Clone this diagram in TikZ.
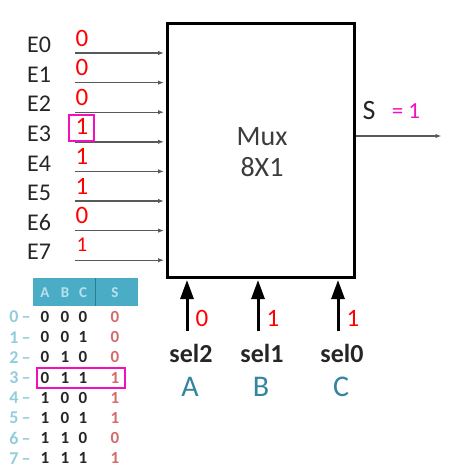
\documentclass[tikz,border=0pt]{standalone}
\usepackage{fontspec}
\setmainfont{Carlito}
\usetikzlibrary{arrows.meta,positioning,calc}
\definecolor{inkC}    {HTML}{262626}
\definecolor{wireC}   {HTML}{595959}
\definecolor{valRed}  {HTML}{FF0000}
\definecolor{hiPink}  {HTML}{F20FC0}
\definecolor{tealC}   {HTML}{31859C}
\definecolor{headFill}{HTML}{4BACC6}
\definecolor{headLine}{HTML}{2C7C90}
\definecolor{headText}{HTML}{B7E1EC}
\definecolor{idxC}    {HTML}{92CDDC}
\definecolor{tabRed}  {HTML}{D46A6A}
\tikzset{
  >=Latex,
  muxBox/.style={draw=black,line width=3pt,fill=white,inner sep=0pt,
                 minimum width=187pt,minimum height=254pt},
  muxText/.style={font=\fontsize{28}{33}\selectfont,text=inkC!90,align=center},
  inLabel/.style={font=\fontsize{24}{26}\selectfont,text=inkC,inner sep=0pt},
  valTxt/.style={font=\fontsize{25}{28}\selectfont,text=valRed,inner sep=0pt},
  hiBox/.style={draw=hiPink,line width=2.4pt,fill=none,inner sep=0pt},
  inWire/.style={-{Latex[length=6pt,width=4.5pt]},line width=1.4pt,wireC,shorten >=1.5pt},
  selArrow/.style={-{Triangle[length=19pt,width=13pt]},line width=3pt,black,shorten >=1.5pt},
  selLabel/.style={font=\fontsize{26}{29}\selectfont\bfseries,text=inkC,inner sep=0pt},
  letterC/.style={font=\fontsize{30}{32}\selectfont,text=tealC,inner sep=0pt},
  headCell/.style={font=\fontsize{15}{17}\selectfont\bfseries,text=headText,inner sep=0pt},
  idxTxt/.style={font=\fontsize{18}{20}\selectfont\bfseries,text=idxC,inner sep=0pt},
  bitTxt/.style={font=\fontsize{17}{19}\selectfont\bfseries,text=inkC,inner sep=0pt},
  outTxt/.style={font=\fontsize{17}{19}\selectfont\bfseries,text=tabRed,inner sep=0pt},
}
\begin{document}
\begin{tikzpicture}[x=1pt,y=-1pt]
\useasboundingbox (0,0) rectangle (455,469);

% the multiplexer block
\node[muxBox] (mux) at (260.5,150) {};
\node[muxText] (muxname) at (262,152) {Mux\\[-2pt]8X1};

% data inputs E0..E7 with their current values
\foreach \v/\sz [count=\i from 0] in {0/25,0/25,0/25,1/25,1/25,1/25,0/25,1/21} {
  \node[inLabel] (e\i) at (39,{45+29.6*\i}) {E\i};
  \node[valTxt,font=\fontsize{\sz}{\sz}\selectfont] (v\i) at (82,{38+29.6*\i}) {\v};
  \coordinate (w\i) at (75,{53+29.6*\i});
  \draw[inWire] (w\i) -- (w\i -| mux.west);
}
\node[hiBox,minimum width=25pt,minimum height=26pt] (e3box) at (81.5,128) {};

% output S
\coordinate (sOut) at (443,136);
\draw[inWire] (mux.east |- sOut) -- (sOut);
\node[font=\fontsize{28}{30}\selectfont,text=inkC,inner sep=0pt] (sname) at (369,111) {S};
\node[font=\fontsize{23}{26}\selectfont,text=hiPink,inner sep=0pt] (sval) at (406,111) {= 1};

% select lines
\foreach \x/\s/\v/\l [count=\k] in {187/2/0/A,258/1/1/B,338/0/1/C} {
  \coordinate (a\k) at (\x,331);
  \draw[selArrow] (a\k) -- (a\k |- mux.south);
  \node[valTxt] (sv\k) at ({\x+15},318) {\v};
  \node[selLabel] (sel\k) at ({\x+4},353) {sel\s};
  \node[letterC] (abc\k) at ({\x+3},387) {\l};
}

% truth table
\node[fill=headFill,minimum width=105pt,minimum height=28pt,inner sep=0pt] (thead) at (85.5,292) {};
\draw[headLine,line width=0.8pt] (95,278) -- (95,306);
\node[headCell] (hA) at (45,293) {A};
\node[headCell] (hB) at (65,293) {B};
\node[headCell] (hC) at (83,293) {C};
\node[headCell] (hS) at (115,293) {S};
\foreach \a/\b/\c/\s [count=\r from 0] in {0/0/0/0,0/0/1/0,0/1/0/0,0/1/1/1,1/0/0/1,1/0/1/1,1/1/0/0,1/1/1/1} {
  \node[idxTxt] (ti\r) at (20,{317+20.2*\r}) {\r\,--};
  \node[bitTxt] (ta\r) at (45,{317+20.2*\r}) {\a};
  \node[bitTxt] (tb\r) at (65,{317+20.2*\r}) {\b};
  \node[bitTxt] (tc\r) at (83,{317+20.2*\r}) {\c};
  \node[outTxt] (ts\r) at (115,{317+20.2*\r}) {\s};
}
\node[hiBox,minimum width=88pt,minimum height=20pt] (rowbox) at (81,378) {};

\end{tikzpicture}
\end{document}
